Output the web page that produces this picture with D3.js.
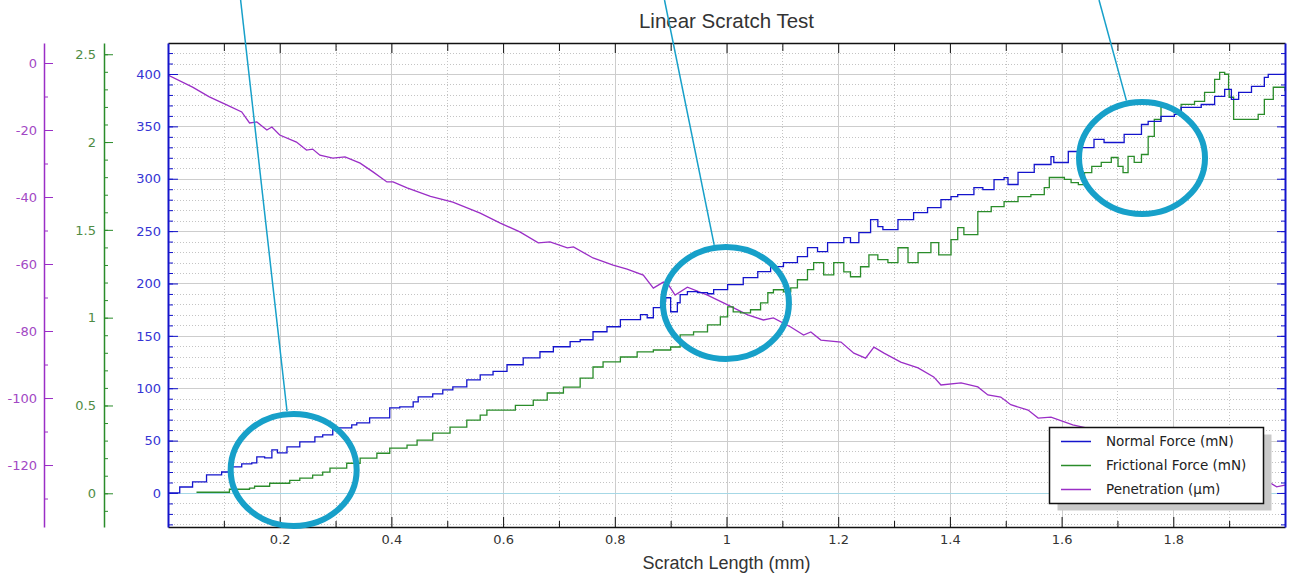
<!DOCTYPE html>
<html>
<head>
<meta charset="utf-8">
<script src="https://cdn.jsdelivr.net/npm/d3@7"></script>
<style>
body { margin: 0; background: #fff; }
svg { display: block; }
</style>
</head>
<body>
<div id="chart"></div>
<script>
// values: [scratch length (mm), value]
const normalForce = [
    [0, 0], [0.021, 5.7], [0.044, 10.5], [0.069, 17.2], [0.096, 20], [0.114, 24.9], [0.132, 27.7],
    [0.150, 28.7], [0.159, 34.4], [0.173, 33.5], [0.186, 41.1], [0.196, 38.2], [0.213, 44], [0.236, 48.8],
    [0.250, 48.8], [0.263, 53.5], [0.277, 55.4], [0.295, 62.1], [0.329, 65], [0.338, 66.9], [0.361, 71.7],
    [0.397, 81.3], [0.415, 82.2], [0.439, 87], [0.448, 91.8], [0.474, 94.6], [0.492, 98.5], [0.510, 101.3],
    [0.535, 108], [0.559, 112.8], [0.582, 116], [0.607, 122.4], [0.636, 129], [0.666, 134.8], [0.690, 139.6],
    [0.720, 144.4], [0.738, 146.3], [0.761, 153.9], [0.786, 158.7], [0.810, 165.4], [0.846, 170.2],
    [0.858, 167.3], [0.869, 176.9], [0.882, 182.6], [0.891, 186.4], [0.900, 173], [0.912, 181.6],
    [0.917, 189.3], [0.930, 192.2], [0.948, 191.2], [0.966, 190.2], [0.977, 194.1], [1.002, 198.9],
    [1.030, 205.5], [1.056, 211.3], [1.079, 216], [1.102, 219.9], [1.127, 225.6], [1.145, 234.2],
    [1.163, 230.4], [1.181, 239], [1.210, 243.8], [1.222, 239], [1.237, 248.6], [1.258, 261], [1.271, 254.3],
    [1.280, 251.4], [1.307, 261], [1.335, 267.7], [1.360, 272.5], [1.384, 280.1], [1.402, 283], [1.414, 284.9],
    [1.443, 291.6], [1.459, 289.7], [1.479, 299.2], [1.497, 301.1], [1.504, 294.5], [1.522, 306],
    [1.551, 313.6], [1.581, 321.2], [1.586, 315.5], [1.612, 326], [1.635, 329.8], [1.658, 337.5],
    [1.676, 334.6], [1.712, 342.3], [1.743, 351.8], [1.755, 354.7], [1.778, 359.5], [1.802, 361.4],
    [1.814, 368.1], [1.850, 370.9], [1.874, 378.6], [1.892, 385.3], [1.904, 375.7], [1.917, 382.4],
    [1.940, 388.1], [1.963, 396.7], [1.970, 399.6], [2.0, 401.5]
]

const frictionalForce = [
    [0.051, 0.006], [0.096, 0.006], [0.110, 0.023], [0.146, 0.029], [0.155, 0.04], [0.182, 0.057],
    [0.218, 0.074], [0.236, 0.086], [0.259, 0.103], [0.277, 0.12], [0.290, 0.143], [0.320, 0.171],
    [0.344, 0.2], [0.374, 0.228], [0.397, 0.257], [0.428, 0.274], [0.446, 0.303], [0.474, 0.342],
    [0.505, 0.377], [0.535, 0.417], [0.559, 0.445], [0.571, 0.474], [0.595, 0.474], [0.622, 0.5],
    [0.654, 0.531], [0.679, 0.571], [0.708, 0.605], [0.738, 0.656], [0.761, 0.719], [0.779, 0.748],
    [0.810, 0.776], [0.840, 0.805], [0.869, 0.816], [0.900, 0.833], [0.917, 0.902], [0.941, 0.919],
    [0.966, 0.959], [0.989, 1.005], [1.002, 1.062], [1.012, 1.033], [1.025, 1.027], [1.043, 1.045],
    [1.061, 1.084], [1.074, 1.142], [1.084, 1.159], [1.102, 1.147], [1.115, 1.17], [1.127, 1.216],
    [1.145, 1.273], [1.156, 1.313], [1.174, 1.244], [1.192, 1.313], [1.210, 1.261], [1.222, 1.233],
    [1.240, 1.29], [1.255, 1.358], [1.271, 1.33], [1.289, 1.313], [1.307, 1.398], [1.325, 1.313],
    [1.343, 1.37], [1.366, 1.427], [1.380, 1.358], [1.402, 1.444], [1.414, 1.513], [1.425, 1.473],
    [1.438, 1.473], [1.450, 1.604], [1.474, 1.632], [1.497, 1.661], [1.522, 1.689], [1.545, 1.701],
    [1.569, 1.741], [1.578, 1.798], [1.605, 1.787], [1.617, 1.769], [1.630, 1.758], [1.641, 1.826],
    [1.654, 1.861], [1.671, 1.884], [1.689, 1.912], [1.701, 1.861], [1.710, 1.826], [1.719, 1.918],
    [1.730, 1.884], [1.743, 1.929], [1.755, 2.032], [1.766, 2.129], [1.778, 2.197], [1.791, 2.186],
    [1.802, 2.169], [1.814, 2.215], [1.838, 2.232], [1.856, 2.283], [1.874, 2.357], [1.883, 2.397],
    [1.892, 2.386], [1.899, 2.3], [1.900, 2.255], [1.908, 2.129], [1.945, 2.129], [1.952, 2.158],
    [1.963, 2.243], [1.979, 2.312], [2.0, 2.289]
]

const penetration = [
    [0, -3.6], [0.044, -7.2], [0.074, -10.1], [0.105, -12.5], [0.132, -14.6], [0.146, -17.9],
    [0.159, -17.6], [0.177, -20], [0.186, -19.1], [0.200, -21.5], [0.230, -23.6], [0.248, -26],
    [0.259, -25.7], [0.272, -27.5], [0.295, -28.4], [0.317, -28], [0.344, -29.9], [0.367, -32.5],
    [0.392, -35.5], [0.403, -35.5], [0.428, -37.3], [0.470, -39.8], [0.510, -41.5], [0.559, -44.8],
    [0.595, -47.8], [0.630, -50.4], [0.663, -53.7], [0.684, -53.4], [0.715, -55.2], [0.726, -54.9],
    [0.761, -58.2], [0.797, -60.3], [0.822, -61.5], [0.851, -63.3], [0.869, -67.2], [0.887, -65.4],
    [0.896, -66.2], [0.908, -69.3], [0.930, -66.9], [0.966, -69.3], [1.002, -72.2], [1.038, -75.2],
    [1.066, -76.7], [1.084, -76.1], [1.115, -78.8], [1.138, -81.2], [1.151, -80.3], [1.169, -82.7],
    [1.205, -83.3], [1.228, -86.6], [1.249, -88.1], [1.264, -84.8], [1.282, -86.6], [1.312, -89.3],
    [1.343, -91], [1.371, -93.7], [1.384, -96.1], [1.420, -95.5], [1.450, -96.7], [1.468, -99.1],
    [1.491, -99.7], [1.509, -102], [1.540, -103.6], [1.558, -106], [1.581, -105.7], [1.620, -108],
    [1.660, -109.5], [1.700, -112], [1.750, -114], [1.800, -117.5], [1.850, -119], [1.900, -122],
    [1.950, -124.5], [1.975, -125.5], [1.985, -126.5], [2.0, -126]
]

const seriesNames = ['Normal Force (mN)', 'Frictional Force (mN)', 'Penetration (µm)']
const xTicks = [0.2, 0.4, 0.6, 0.8, 1, 1.2, 1.4, 1.6, 1.8]
const normalTicks = [0, 50, 100, 150, 200, 250, 300, 350, 400]
const frictionTicks = [0, 0.5, 1, 1.5, 2, 2.5]
const penetrationTicks = [0, -20, -40, -60, -80, -100, -120]

// marked regions: centre (mm, mN) and where the pointer line leaves the top edge (mm)
const highlights = [
    { x: 0.225, y: 22, topX: 0.130 },
    { x: 0.999, y: 181.4, topX: 0.889 },
    { x: 1.744, y: 319.8, topX: 1.667 }
]

const width = 1291
const height = 577
const plot = { left: 168, right: 1285, top: 43, bottom: 527 }

const blue = '#1414cc'
const green = '#2a8c2a'
const purple = '#9a2ec6'
const tickFont = "'DejaVu Sans', Verdana, sans-serif"
const textFont = "'Liberation Sans', Arial, sans-serif"

let svg = d3.select('#chart').append('svg')
    .attr('width', width)
    .attr('height', height)
    .style('background', '#fff')

let x = d3.scaleLinear().domain([0, 2]).range([plot.left, plot.right])
let yNormal = d3.scaleLinear().domain([-32.5, 429.6]).range([plot.bottom, plot.top])
let yFriction = d3.scaleLinear().domain([-0.192, 2.564]).range([plot.bottom, plot.top])
let yPen = d3.scaleLinear().domain([-138.5, 5.97]).range([plot.bottom, plot.top])

// grid
let grid = svg.append('g')
grid.selectAll('line.minor-x')
    .data(d3.range(0.1, 2, 0.2))
    .enter()
    .append('line')
        .attr('x1', d => Math.round(x(d)) + 0.5)
        .attr('x2', d => Math.round(x(d)) + 0.5)
        .attr('y1', plot.top)
        .attr('y2', plot.bottom)
        .attr('stroke', '#c4c4c4')
        .attr('stroke-dasharray', '1,2')
grid.selectAll('line.minor-y')
    .data(d3.range(-30, 430, 10).filter(v => v % 50 != 0))
    .enter()
    .append('line')
        .attr('x1', plot.left)
        .attr('x2', plot.right)
        .attr('y1', d => Math.round(yNormal(d)) + 0.5)
        .attr('y2', d => Math.round(yNormal(d)) + 0.5)
        .attr('stroke', '#c4c4c4')
        .attr('stroke-dasharray', '1,2')
grid.selectAll('line.major-x')
    .data(xTicks)
    .enter()
    .append('line')
        .attr('x1', d => Math.round(x(d)) + 0.5)
        .attr('x2', d => Math.round(x(d)) + 0.5)
        .attr('y1', plot.top)
        .attr('y2', plot.bottom)
        .attr('stroke', '#cdcdcd')
grid.selectAll('line.major-y')
    .data(normalTicks.filter(v => v != 0))
    .enter()
    .append('line')
        .attr('x1', plot.left)
        .attr('x2', plot.right)
        .attr('y1', d => Math.round(yNormal(d)) + 0.5)
        .attr('y2', d => Math.round(yNormal(d)) + 0.5)
        .attr('stroke', '#cdcdcd')

// zero reference line
svg.append('line')
    .attr('x1', plot.left)
    .attr('x2', plot.right)
    .attr('y1', Math.round(yNormal(0)) + 0.5)
    .attr('y2', Math.round(yNormal(0)) + 0.5)
    .attr('stroke', '#a6d8e6')

// series
svg.append('clipPath')
    .attr('id', 'plot-clip')
    .append('rect')
        .attr('x', plot.left)
        .attr('y', plot.top)
        .attr('width', plot.right - plot.left)
        .attr('height', plot.bottom - plot.top)

let series = svg.append('g')
    .attr('clip-path', 'url(#plot-clip)')
    .attr('fill', 'none')
    .attr('stroke-width', 1.3)

series.append('path')
    .datum(penetration)
    .attr('stroke', purple)
    .attr('d', d3.line().x(d => x(d[0])).y(d => yPen(d[1])))
series.append('path')
    .datum(frictionalForce)
    .attr('stroke', green)
    .attr('d', d3.line().curve(d3.curveStepAfter).x(d => x(d[0])).y(d => yFriction(d[1])))
series.append('path')
    .datum(normalForce)
    .attr('stroke', blue)
    .attr('d', d3.line().curve(d3.curveStepAfter).x(d => x(d[0])).y(d => yNormal(d[1])))

// axes
function styleAxis(g, color, labelColor, lineWidth) {
    g.select('.domain').attr('stroke', color).attr('stroke-width', lineWidth)
    g.selectAll('.tick line').attr('stroke', color)
    g.selectAll('.tick text')
        .attr('fill', labelColor)
        .attr('font-family', tickFont)
        .attr('font-size', 13)
}

function minorTicks(axis, values, size) {
    return axis.tickValues(values).tickSizeInner(size).tickSizeOuter(0).tickFormat('')
}

// bottom
svg.append('g')
    .attr('transform', `translate(0,${plot.bottom})`)
    .call(minorTicks(d3.axisBottom(x), d3.range(0.1, 2, 0.2), -6))
    .call(g => g.select('.domain').remove())
    .call(g => g.selectAll('line').attr('stroke', '#111'))
svg.append('g')
    .attr('transform', `translate(0,${plot.bottom})`)
    .call(d3.axisBottom(x).tickValues(xTicks).tickFormat(d3.format('~g')).tickSizeInner(-10).tickSizeOuter(0).tickPadding(8))
    .call(g => styleAxis(g, '#111', '#333', 1.5))

// top
svg.append('g')
    .attr('transform', `translate(0,${plot.top})`)
    .call(minorTicks(d3.axisTop(x), d3.range(0.1, 2, 0.2), -8))
    .call(g => g.select('.domain').remove())
    .call(g => g.selectAll('line').attr('stroke', '#111'))
svg.append('g')
    .attr('transform', `translate(0,${plot.top})`)
    .call(minorTicks(d3.axisTop(x), xTicks, -10))
    .call(g => styleAxis(g, '#111', '#333', 1.5))

// normal force, left and right
svg.append('g')
    .attr('transform', `translate(${plot.left},0)`)
    .call(minorTicks(d3.axisLeft(yNormal), d3.range(-30, 430, 10), -5))
    .call(g => g.select('.domain').remove())
    .call(g => g.selectAll('line').attr('stroke', blue))
svg.append('g')
    .attr('transform', `translate(${plot.left},0)`)
    .call(d3.axisLeft(yNormal).tickValues(normalTicks).tickSizeInner(-10).tickSizeOuter(0).tickPadding(7))
    .call(g => styleAxis(g, blue, '#3535d4', 2))
svg.append('g')
    .attr('transform', `translate(${plot.right},0)`)
    .call(minorTicks(d3.axisRight(yNormal), d3.range(-30, 430, 10), -4))
    .call(g => g.select('.domain').remove())
    .call(g => g.selectAll('line').attr('stroke', blue))
svg.append('g')
    .attr('transform', `translate(${plot.right},0)`)
    .call(minorTicks(d3.axisRight(yNormal), normalTicks, -8))
    .call(g => styleAxis(g, blue, blue, 2))

// frictional force
svg.append('g')
    .attr('transform', 'translate(104,0)')
    .call(minorTicks(d3.axisLeft(yFriction), d3.range(-0.1, 2.56, 0.1), -4))
    .call(g => g.select('.domain').remove())
    .call(g => g.selectAll('line').attr('stroke', green))
svg.append('g')
    .attr('transform', 'translate(104,0)')
    .call(d3.axisLeft(yFriction).tickValues(frictionTicks).tickFormat(d3.format('~g')).tickSizeInner(-9).tickSizeOuter(0).tickPadding(8))
    .call(g => styleAxis(g, green, '#4f8c45', 1.5))

// penetration
svg.append('g')
    .attr('transform', 'translate(44,0)')
    .call(minorTicks(d3.axisLeft(yPen), d3.range(-130, 5, 10), -4))
    .call(g => g.select('.domain').remove())
    .call(g => g.selectAll('line').attr('stroke', purple))
svg.append('g')
    .attr('transform', 'translate(44,0)')
    .call(d3.axisLeft(yPen).tickValues(penetrationTicks).tickFormat(d => d).tickSizeInner(-9).tickSizeOuter(0).tickPadding(7))
    .call(g => styleAxis(g, purple, '#a248c4', 1.5))

// titles
svg.append('text')
    .attr('x', (plot.left + plot.right) / 2)
    .attr('y', 28)
    .attr('text-anchor', 'middle')
    .attr('font-family', textFont)
    .attr('font-size', 20.5)
    .attr('fill', '#333')
    .text('Linear Scratch Test')
svg.append('text')
    .attr('x', (plot.left + plot.right) / 2)
    .attr('y', 569)
    .attr('text-anchor', 'middle')
    .attr('font-family', textFont)
    .attr('font-size', 18)
    .attr('fill', '#333')
    .text('Scratch Length (mm)')

// legend
let legend = svg.append('g')
    .attr('transform', 'translate(1049,427)')
legend.append('rect')
    .attr('x', 8.5)
    .attr('y', 7.5)
    .attr('width', 214)
    .attr('height', 76)
    .attr('fill', '#c9c9c9')
legend.append('rect')
    .attr('x', 0.5)
    .attr('y', 0.5)
    .attr('width', 214)
    .attr('height', 76)
    .attr('fill', '#fff')
    .attr('stroke', '#111')
    .attr('stroke-width', 1.5)
let legendRows = legend.selectAll('g.legend-row')
    .data(seriesNames)
    .enter()
    .append('g')
        .attr('class', 'legend-row')
        .attr('transform', (d, i) => `translate(0,${14.5 + i * 24})`)
legendRows.append('line')
    .attr('x1', 12)
    .attr('x2', 42)
    .attr('stroke', (d, i) => [blue, green, purple][i])
    .attr('stroke-width', 1.5)
legendRows.append('text')
    .attr('x', 57)
    .attr('dy', '0.36em')
    .attr('font-family', tickFont)
    .attr('font-size', 13.5)
    .attr('fill', '#222')
    .text(d => d)

// highlight ellipses and pointer lines
let rx = 63
let ry = 56
let marks = svg.append('g')
    .attr('fill', 'none')
    .attr('stroke', '#17a0c9')
highlights.forEach(h => {
    let cx = x(h.x)
    let cy = yNormal(h.y)
    let px = x(h.topX)
    let dx = px - cx
    let dy = 0 - cy
    let s = 1 / Math.sqrt((dx / (rx + 3)) ** 2 + (dy / (ry + 3)) ** 2)
    marks.append('line')
        .attr('x1', px)
        .attr('y1', 0)
        .attr('x2', cx + dx * s)
        .attr('y2', cy + dy * s)
        .attr('stroke-width', 1.5)
    marks.append('ellipse')
        .attr('cx', cx)
        .attr('cy', cy)
        .attr('rx', rx)
        .attr('ry', ry)
        .attr('stroke-width', 6)
})
</script>
</body>
</html>
